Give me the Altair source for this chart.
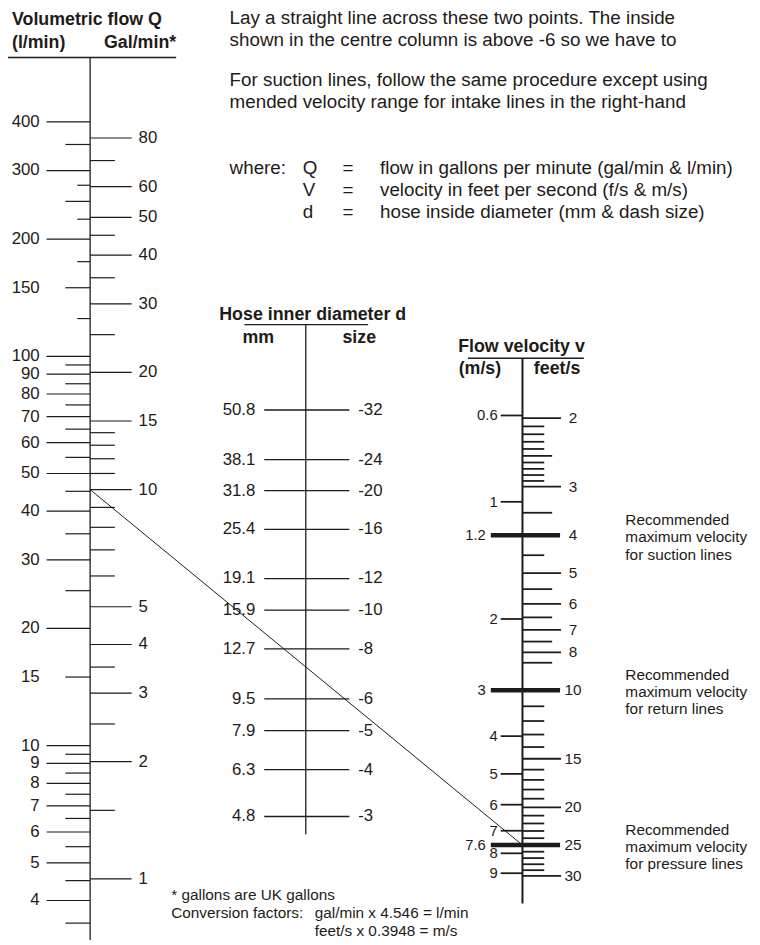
import math
import altair as alt
import pandas as pd

FONT = "Liberation Sans"
INK = "#1e1b18"

# ---------------- values ----------------
# Volumetric flow Q, l/min (left side of the left column)
LMIN_LONG = [400, 300, 200, 100, 90, 80, 70, 60, 50, 40, 30, 20, 10, 9, 8, 7, 6, 5, 4]
LMIN_MED_LABELED = [150, 15]
LMIN_MED = [350, 250, 95, 85, 75, 65, 55, 45, 35, 25, 9.5, 8.5, 7.5, 6.5, 5.5, 4.5, 3.5]
LMIN_SMALL = [275, 225, 175, 125]
# Volumetric flow Q, UK gal/min (right side of the left column)
GAL_LONG = [80, 60, 50, 40, 30, 20, 15, 10, 5, 4, 3, 2, 1]
GAL_SHORT = [70, 45, 35, 25, 14, 13, 12, 11, 9, 8, 7, 6, 3.5, 2.5, 1.5]
GAL_TO_LMIN = 4.546

# Hose inner diameter d
HOSE_MM = [50.8, 38.1, 31.8, 25.4, 19.1, 15.9, 12.7, 9.5, 7.9, 6.3, 4.8]
HOSE_SIZE = ["-32", "-24", "-20", "-16", "-12", "-10", "-8", "-6", "-5", "-4", "-3"]

# Flow velocity v
FPS_LONG = [2, 3, 5, 6, 7, 8, 15, 20, 30]
FPS_MED = [2.5, 3.5, 5.5, 6.5, 7.5, 8.5]
FPS_SHORT = [2.1, 2.2, 2.3, 2.4, 2.6, 2.7, 2.8, 2.9, 4.5, 11, 12, 13, 14,
             16, 17, 18, 19, 21, 22, 23, 24, 26, 27, 28, 29]
MS_TICKS = [0.6, 1, 2, 4, 5, 6, 7, 8, 9]
MS_TICK_LABELS = ["0.6", "1", "2", "4", "5", "6", "7", "8", "9"]
FT_TO_M = 0.3048
LIMIT_FPS = [4, 10, 25]
LIMIT_MS = ["1.2", "3", "7.6"]
LIMIT_LINE1 = ["Recommended", "Recommended", "Recommended"]
LIMIT_LINE2 = ["maximum velocity", "maximum velocity", "maximum velocity"]
LIMIT_LINE3 = ["for suction lines", "for return lines", "for pressure lines"]

# worked example drawn across the nomogram
EXAMPLE_GAL = 10
EXAMPLE_FPS = 25

BODY = [
    "Lay a straight line across these two points. The inside",
    "shown in the centre column is above -6 so we have to",
    "For suction lines, follow the same procedure except using",
    "mended velocity range for intake lines in the right-hand",
]
WHERE_SYM = ["Q", "V", "d"]
WHERE_DEF = ["flow in gallons per minute (gal/min & l/min)",
             "velocity in feet per second (f/s & m/s)",
             "hose inside diameter (mm & dash size)"]

# ---------------- layout ----------------
W, H, M = 752, 937, 8


def vx(p):
    return p - M


def vy(p):
    return p - M


def log_scale(anchor, anchor_y, ppd, upward):
    la = math.log10(anchor)
    above = vy(anchor_y) / ppd
    below = (H - vy(anchor_y)) / ppd
    if upward:
        sc = alt.Scale(type="log", domain=[10 ** (la - below), 10 ** (la + above)],
                       range=[H, 0], nice=False)
        fn = lambda v: vy(anchor_y) - (math.log10(v) - la) * ppd
    else:
        sc = alt.Scale(type="log", domain=[10 ** (la - above), 10 ** (la + below)],
                       range=[0, H], nice=False)
        fn = lambda v: vy(anchor_y) + (math.log10(v) - la) * ppd
    return sc, fn


Q_SCALE, q_pos = log_scale(100, 355, 393.5, True)
D_SCALE, d_pos = log_scale(25.4, 530, 401, True)
V_SCALE, v_pos = log_scale(10, 692.5, 393.4, False)
X_SCALE = alt.Scale(domain=[M, M + W], range=[0, W], nice=False, zero=False)

AX_L, AX_M, AX_R = 91, 309, 528


def X(f):
    return alt.X(f, scale=X_SCALE, axis=None)


def ticks(df, yfield, scale, width=1.2):
    return alt.Chart(df).mark_rule(color=INK, strokeWidth=width).encode(
        x=X("x:Q"), x2="x2:Q", y=alt.Y(yfield, scale=scale, axis=None))


def labels(df, yfield, scale, xpos, align, size=17, dy=0):
    return alt.Chart(df).mark_text(
        align=align, baseline="middle", font=FONT, fontSize=size, color=INK, dy=dy
    ).encode(x=alt.value(vx(xpos)), y=alt.Y(yfield, scale=scale, axis=None), text="t:N")


def rule(x1, y1, x2, y2, width=1.3):
    return alt.Chart(alt.Data(values=[{}])).mark_rule(color=INK, strokeWidth=width).encode(
        x=alt.value(vx(x1)), x2=alt.value(vx(x2)), y=alt.value(vy(y1)), y2=alt.value(vy(y2)))


def text(s, x, y, align="left", size=17, bold=False):
    return alt.Chart(alt.Data(values=[{}])).mark_text(
        align=align, baseline="middle", font=FONT, fontSize=size, color=INK,
        fontWeight="bold" if bold else "normal"
    ).encode(x=alt.value(vx(x)), y=alt.value(vy(y)), text=alt.value(s))


layers = []

# ---- left column: volumetric flow ----
rows = ([dict(q=v, x=47, x2=AX_L) for v in LMIN_LONG]
        + [dict(q=v, x=66, x2=AX_L) for v in LMIN_MED_LABELED + LMIN_MED]
        + [dict(q=v, x=78, x2=AX_L) for v in LMIN_SMALL]
        + [dict(q=g * GAL_TO_LMIN, x=AX_L, x2=133) for g in GAL_LONG]
        + [dict(q=g * GAL_TO_LMIN, x=AX_L, x2=116) for g in GAL_SHORT])
layers.append(ticks(pd.DataFrame(rows), "q:Q", Q_SCALE))
lab_l = pd.DataFrame({"q": LMIN_LONG + LMIN_MED_LABELED,
                      "t": [str(v) for v in LMIN_LONG + LMIN_MED_LABELED]})
layers.append(labels(lab_l, "q:Q", Q_SCALE, 40, "right"))
lab_g = pd.DataFrame({"q": [g * GAL_TO_LMIN for g in GAL_LONG], "t": [str(g) for g in GAL_LONG]})
layers.append(labels(lab_g, "q:Q", Q_SCALE, 140, "left"))
layers.append(rule(AX_L, 53, AX_L, 945, 1.3))
layers.append(rule(3, 53, 178, 53, 1.3))
layers.append(text("Volumetric flow Q", 12, 15, size=18, bold=True))
layers.append(text("(l/min)", 12, 38, size=18, bold=True))
layers.append(text("Gal/min*", 178, 38, align="right", size=18, bold=True))

# ---- middle column: hose diameter ----
dm = pd.DataFrame({"d": HOSE_MM, "x": 267, "x2": 353,
                   "t": [f"{v:.1f}" for v in HOSE_MM], "s": HOSE_SIZE})
layers.append(ticks(dm, "d:Q", D_SCALE, 1.3))
layers.append(labels(dm, "d:Q", D_SCALE, 258, "right"))
layers.append(labels(dm.assign(t=dm["s"]), "d:Q", D_SCALE, 362, "left"))
layers.append(rule(AX_M, 323, AX_M, 838, 1.3))
layers.append(rule(247, 323, 372, 323, 1.3))
layers.append(text("Hose inner diameter d", 316, 313, align="center", size=18, bold=True))
layers.append(text("mm", 261, 337, align="center", size=18, bold=True))
layers.append(text("size", 363, 337, align="center", size=18, bold=True))

# ---- right column: flow velocity ----
vrows = ([dict(v=f, x=AX_R, x2=567) for f in FPS_LONG]
         + [dict(v=f, x=AX_R, x2=558) for f in FPS_MED]
         + [dict(v=f, x=AX_R, x2=550) for f in FPS_SHORT]
         + [dict(v=m / FT_TO_M, x=506, x2=AX_R) for m in MS_TICKS])
layers.append(ticks(pd.DataFrame(vrows), "v:Q", V_SCALE, 1.8))
lim = pd.DataFrame({"v": LIMIT_FPS, "x": 496, "x2": 566, "t": [str(f) for f in LIMIT_FPS],
                    "m": LIMIT_MS, "l1": LIMIT_LINE1, "l2": LIMIT_LINE2, "l3": LIMIT_LINE3})
layers.append(ticks(lim, "v:Q", V_SCALE, 4.5))
fps_lab = pd.DataFrame({"v": FPS_LONG, "t": [str(f) for f in FPS_LONG]})
layers.append(labels(fps_lab, "v:Q", V_SCALE, 579, "center", size=15.5))
layers.append(labels(lim, "v:Q", V_SCALE, 579, "center", size=15.5))
ms_lab = pd.DataFrame({"v": [m / FT_TO_M for m in MS_TICKS], "t": MS_TICK_LABELS})
layers.append(labels(ms_lab, "v:Q", V_SCALE, 503, "right", size=15))
layers.append(labels(lim.assign(t=lim["m"]), "v:Q", V_SCALE, 491, "right", size=15))
for i, col in enumerate(["l1", "l2", "l3"]):
    layers.append(labels(lim.assign(t=lim[col]), "v:Q", V_SCALE, 632, "left",
                         size=15.5, dy=(i - 1) * 17.5 + 2))
layers.append(rule(AX_R, 357, AX_R, 908, 2))
layers.append(rule(473, 357, 590, 357, 1.6))
layers.append(text("Flow velocity v", 527, 346, align="center", size=18, bold=True))
layers.append(text("(m/s)", 485, 368, align="center", size=18, bold=True))
layers.append(text("feet/s", 563, 368, align="center", size=18, bold=True))

# ---- worked example line ----
ex = pd.DataFrame({"q": [EXAMPLE_GAL * GAL_TO_LMIN], "x": [AX_L], "x2": [AX_R]})
layers.append(alt.Chart(ex).mark_rule(color=INK, strokeWidth=1).encode(
    x=X("x:Q"), x2="x2:Q", y=alt.Y("q:Q", scale=Q_SCALE, axis=None),
    y2=alt.value(v_pos(EXAMPLE_FPS))))

# ---- notes ----
layers.append(text("* gallons are UK gallons", 173, 900, size=15.5))
layers.append(text("Conversion factors:", 173, 918, size=15.5))
layers.append(text("gal/min x 4.546 = l/min", 318, 918, size=15.5))
layers.append(text("feet/s x 0.3948 = m/s", 318, 936, size=15.5))

# ---- body text (top right) ----
BX, BFS = 232, 19
for s, y in zip(BODY, [13, 35, 76, 98]):
    layers.append(text(s, BX, y, size=BFS))
for i, y in enumerate([165, 187, 209]):
    if i == 0:
        layers.append(text("where:", BX, y, size=BFS))
    layers.append(text(WHERE_SYM[i], BX + 74, y, size=BFS))
    layers.append(text("=", BX + 114, y, size=BFS))
    layers.append(text(WHERE_DEF[i], BX + 152, y, size=BFS))

chart = alt.layer(*layers).resolve_scale(y="independent").properties(
    width=W, height=H, padding=0,
    autosize=alt.AutoSizeParams(type="none"),
    background="white",
).configure_view(stroke=None)

chart.save("out.html", embed_options={"renderer": "svg", "actions": False})
